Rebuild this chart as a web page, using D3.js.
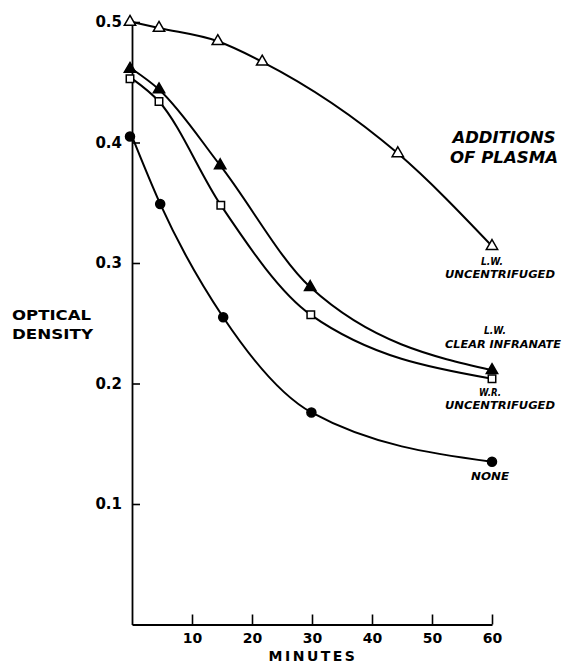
<!DOCTYPE html>
<html><head><meta charset="utf-8">
<script src="https://cdn.jsdelivr.net/npm/d3@7"></script>
<style>
html,body{margin:0;padding:0;background:#fff;}
svg{display:block;font-family:"DejaVu Sans",sans-serif;}
</style></head>
<body><svg id="c" width="562" height="664"></svg>
<script>
// ---- data ----
const xTicks = [10, 20, 30, 40, 50, 60];
const yTicks = [0.1, 0.2, 0.3, 0.4, 0.5];
const lwUncentTime = [0, 4.5, 14.3, 21.7, 44.3, 60];
const lwUncentOD   = [0.500, 0.495, 0.484, 0.467, 0.391, 0.314];
const lwClearTime  = [0, 4.5, 14.7, 29.7, 60];
const lwClearOD    = [0.461, 0.444, 0.381, 0.280, 0.211];
const wrUncentTime = [0, 4.5, 14.8, 29.8, 60];
const wrUncentOD   = [0.453, 0.434, 0.348, 0.257, 0.204];
const noneTime     = [0, 4.7, 15.2, 29.9, 60];
const noneOD       = [0.405, 0.349, 0.255, 0.176, 0.135];
const seriesNames  = ["L.W. UNCENTRIFUGED", "L.W. CLEAR INFRANATE", "W.R. UNCENTRIFUGED", "NONE"];

const svg = d3.select("#c");
const x = d3.scaleLinear().domain([0, 60]).range([132, 492]);
const y = d3.scaleLinear().domain([0, 0.5]).range([624.5, 22]);

const fontB = "'DejaVu Sans', sans-serif";

// axes
const yAx = svg.append("g").attr("transform", `translate(${x(0)},0)`)
  .call(d3.axisLeft(y).tickValues(yTicks).tickSize(-8).tickSizeOuter(0).tickPadding(10).tickFormat(d3.format(".1f")));
yAx.select(".domain").attr("stroke-width", 1.8);
yAx.selectAll(".tick line").attr("stroke-width", 1.6);
yAx.selectAll(".tick text").attr("font-size", 15).attr("font-weight", "bold").attr("font-family", fontB).attr("fill", "#000");

const xAx = svg.append("g").attr("transform", `translate(0,${y(0)})`)
  .call(d3.axisBottom(x).tickValues(xTicks).tickSize(-10).tickSizeOuter(0).tickPadding(9));
xAx.select(".domain").attr("stroke-width", 1.8);
xAx.selectAll(".tick line").attr("stroke-width", 1.6);
xAx.selectAll(".tick text").attr("font-size", 14).attr("font-weight", "bold").attr("font-family", fontB).attr("fill", "#000");

// axis titles
svg.append("text").attr("x", 313).attr("y", 661).attr("text-anchor", "middle")
  .attr("font-size", 14).attr("font-weight", "bold").attr("letter-spacing", 2.5).text("MINUTES");
svg.append("text").attr("x", 12).attr("y", 320).attr("font-size", 14).attr("font-weight", "bold")
  .attr("textLength", 79).attr("lengthAdjust", "spacingAndGlyphs").text("OPTICAL");
svg.append("text").attr("x", 12).attr("y", 339).attr("font-size", 14).attr("font-weight", "bold")
  .attr("textLength", 81).attr("lengthAdjust", "spacingAndGlyphs").text("DENSITY");

// series
const series = [
  {t: lwUncentTime, v: lwUncentOD, sym: d3.symbolTriangle, fill: "#fff"},
  {t: lwClearTime,  v: lwClearOD,  sym: d3.symbolTriangle, fill: "#000"},
  {t: wrUncentTime, v: wrUncentOD, sym: d3.symbolSquare,   fill: "#fff"},
  {t: noneTime,     v: noneOD,     sym: d3.symbolCircle,   fill: "#000"}
];
const line = d3.line().x(d => x(d[0])).y(d => y(d[1])).curve(d3.curveMonotoneX);
series.forEach(s => {
  const pts = s.t.map((t, i) => [t, s.v[i]]);
  svg.append("path").attr("d", line(pts)).attr("fill", "none").attr("stroke", "#000").attr("stroke-width", 2);
  const size = s.sym === d3.symbolCircle ? 64 : (s.sym === d3.symbolSquare ? 56 : 56);
  svg.append("g").selectAll("path").data(pts).join("path")
    .attr("transform", d => `translate(${x(d[0]) - (d[0] === 0 ? 2 : 0)},${y(d[1])})`)
    .attr("d", d3.symbol().type(s.sym).size(size))
    .attr("fill", s.fill).attr("stroke", "#000").attr("stroke-width", 1.5);
});

// legend-like labels
function lab(x0, yy, txt, len, fs) {
  svg.append("text").attr("x", x0).attr("y", yy).attr("text-anchor", "middle")
    .attr("font-size", fs).attr("font-weight", "bold").attr("font-style", "italic")
    .attr("textLength", len).attr("lengthAdjust", "spacingAndGlyphs").text(txt);
}
lab(504, 143, "ADDITIONS", 103, 15);
lab(504, 163, "OF PLASMA", 108, 15);
lab(492, 265, "L.W.", 22, 10);
lab(500, 277.5, "UNCENTRIFUGED", 110, 11);
lab(495, 334, "L.W.", 22, 10);
lab(503, 347.5, "CLEAR INFRANATE", 116, 11);
lab(490, 396, "W.R.", 22, 10);
lab(500, 408.5, "UNCENTRIFUGED", 110, 11);
lab(490, 480, "NONE", 38, 11);
</script>
</body></html>
